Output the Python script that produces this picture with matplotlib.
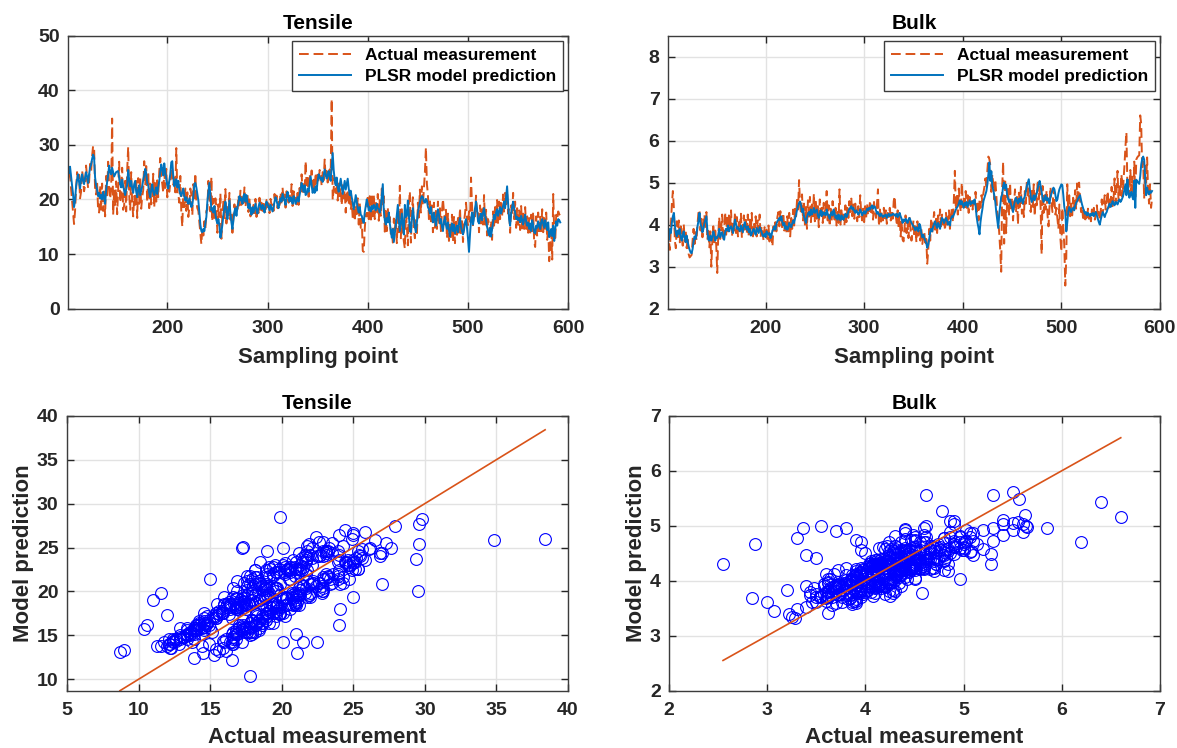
import numpy as np
import matplotlib
matplotlib.use("Agg")
import matplotlib.pyplot as plt

plt.rcParams['font.family'] = ['Liberation Sans', 'DejaVu Sans']
plt.rcParams['font.weight'] = 'bold'
plt.rcParams['axes.titleweight'] = 'bold'
plt.rcParams['axes.labelweight'] = 'bold'

# Tensile strength, sampling points 101..592
tensile_actual = [
    23.5, 25.6, 24.9, 22.0, 19.8, 17.4, 15.5, 17.9, 21.8, 25.0,
    23.1, 24.5, 20.2, 21.4, 25.3, 23.9, 21.5, 22.6, 26.2, 24.0,
    22.1, 23.2, 26.5, 25.0, 27.9, 29.8, 29.6, 21.7, 20.9, 23.2,
    18.0, 17.6, 22.6, 18.1, 22.9, 17.9, 21.7, 16.9, 24.3, 20.2,
    26.9, 22.4, 20.1, 21.8, 34.8, 17.2, 21.6, 19.0, 23.3, 17.3,
    21.8, 26.9, 19.4, 20.6, 25.8, 18.1, 18.9, 23.4, 17.8, 25.3,
    29.6, 20.8, 18.1, 25.0, 19.4, 16.9, 20.6, 18.5, 23.9, 16.6,
    23.9, 19.2, 24.1, 18.3, 20.5, 21.7, 27.0, 22.6, 26.1, 19.5,
    25.1, 18.4, 22.9, 19.1, 20.6, 24.7, 18.5, 23.2, 19.6, 23.5,
    20.4, 25.1, 27.6, 24.0, 22.9, 21.2, 25.0, 22.1, 25.6, 20.4,
    23.1, 21.4, 22.9, 25.8, 24.4, 22.7, 24.0, 21.3, 29.4, 21.0,
    21.0, 19.4, 24.3, 17.6, 15.0, 21.7, 18.6, 22.0, 17.9, 21.3,
    16.8, 18.6, 22.0, 20.9, 17.1, 22.8, 20.2, 24.8, 19.6, 18.4,
    17.9, 15.8, 13.6, 11.8, 14.9, 13.4, 16.0, 14.6, 17.9, 18.1,
    23.4, 20.1, 17.8, 24.1, 16.0, 20.1, 16.3, 20.2, 18.6, 13.9,
    19.1, 16.8, 21.1, 12.8, 17.6, 19.6, 16.2, 21.9, 15.6, 18.6,
    17.1, 21.2, 16.3, 17.5, 13.9, 17.0, 19.1, 17.2, 18.6, 17.7,
    20.7, 18.9, 21.6, 19.0, 20.4, 19.3, 22.2, 18.7, 19.9, 21.1,
    17.7, 20.0, 16.9, 18.3, 17.4, 19.0, 17.5, 20.1, 16.8, 18.2,
    17.5, 20.3, 18.1, 19.4, 17.9, 19.7, 18.2, 17.4, 19.9, 18.6,
    19.3, 17.5, 20.1, 18.9, 19.2, 17.9, 21.0, 19.5, 20.7, 18.4,
    19.6, 18.8, 21.3, 19.0, 22.2, 19.6, 20.9, 18.5, 21.5, 20.6,
    19.4, 21.1, 19.7, 22.8, 18.8, 21.5, 19.6, 20.3, 19.1, 21.2,
    19.0, 22.1, 20.9, 24.6, 21.4, 23.0, 21.1, 27.0, 22.6, 23.9,
    20.5, 24.7, 23.1, 25.3, 22.2, 23.6, 21.8, 24.9, 22.9, 24.5,
    23.1, 25.4, 24.6, 22.5, 25.0, 23.5, 27.3, 23.9, 25.2, 23.1,
    24.3, 25.5, 24.4, 38.4, 19.9, 21.9, 24.0, 21.2, 22.9, 19.8,
    22.9, 20.6, 22.1, 18.9, 22.6, 20.2, 21.7, 17.6, 20.9, 21.8,
    19.0, 21.3, 18.1, 19.6, 16.6, 19.2, 16.0, 18.9, 17.3, 20.2,
    15.4, 19.4, 14.8, 16.5, 10.6, 10.4, 14.6, 17.3, 16.9, 20.8,
    16.4, 20.6, 15.8, 21.1, 16.9, 20.9, 16.4, 19.8, 17.2, 21.0,
    16.1, 19.9, 17.0, 22.0, 19.1, 20.6, 14.1, 17.9, 14.2, 18.4,
    15.9, 16.8, 13.7, 14.5, 12.1, 16.5, 14.4, 16.6, 12.0, 17.8,
    14.0, 22.5, 12.9, 18.2, 14.4, 12.3, 11.0, 17.3, 15.2, 11.6,
    19.0, 21.5, 12.1, 17.8, 20.4, 14.6, 12.9, 16.5, 13.4, 19.4,
    16.7, 21.8, 17.6, 22.4, 18.9, 21.9, 25.0, 29.5, 22.8, 20.9,
    16.4, 19.9, 16.0, 18.9, 14.0, 19.4, 14.8, 17.9, 14.6, 19.6,
    15.4, 18.4, 14.2, 17.8, 20.1, 17.7, 14.9, 18.1, 12.9, 17.4,
    12.4, 15.6, 13.1, 17.2, 12.4, 16.8, 12.0, 16.1, 13.4, 16.6,
    13.9, 18.4, 13.6, 16.5, 12.2, 15.9, 17.4, 19.4, 16.6, 15.3,
    17.8, 15.9, 24.0, 18.9, 15.1, 17.9, 16.9, 20.7, 17.4, 17.8,
    14.0, 18.9, 15.6, 18.2, 15.4, 20.8, 15.4, 18.1, 13.4, 16.4,
    15.4, 12.9, 16.1, 12.6, 17.8, 15.2, 18.6, 15.8, 19.9, 15.4,
    19.6, 16.4, 19.8, 16.8, 20.9, 17.6, 21.2, 18.8, 21.3, 17.4,
    18.2, 13.9, 18.9, 17.0, 21.2, 16.4, 19.6, 14.8, 18.4, 14.9,
    18.0, 14.4, 18.8, 14.7, 17.4, 14.6, 18.6, 14.6, 16.9, 13.9,
    16.6, 13.4, 17.2, 14.2, 17.8, 12.2, 11.3, 16.9, 13.2, 17.6,
    13.6, 16.8, 14.2, 18.2, 14.0, 16.6, 14.3, 17.6, 12.6, 15.0,
    8.7, 11.6, 13.9, 9.0, 21.0, 13.9, 12.4, 17.2, 16.5, 17.8,
    17.3, 17.0,
]
tensile_pred = [
    25.5, 24.8, 26.0, 24.2, 22.6, 21.0, 18.6, 19.8, 22.4, 23.6,
    24.6, 23.2, 22.0, 23.8, 24.6, 23.4, 22.8, 24.0, 25.0, 24.2,
    23.0, 24.6, 25.8, 26.4, 27.4, 28.2, 27.7, 24.0, 22.6, 21.8,
    20.6, 21.2, 20.2, 20.8, 20.0, 21.4, 20.4, 19.2, 21.6, 23.2,
    24.4, 26.2, 25.0, 24.6, 25.8, 25.0, 24.2, 24.6, 25.0, 25.1,
    25.2, 24.0, 22.8, 22.2, 23.6, 22.4, 21.6, 20.8, 21.8, 22.6,
    25.4, 23.6, 22.4, 23.4, 22.0, 21.2, 22.8, 23.4, 21.4, 20.4,
    21.8, 22.6, 20.8, 21.6, 22.4, 23.6, 24.4, 25.6, 24.8, 23.0,
    22.6, 21.2, 20.4, 21.8, 22.8, 21.4, 20.8, 21.6, 22.2, 21.0,
    22.4, 23.4, 25.0, 26.4, 25.6, 24.4, 26.6, 25.0, 23.8, 22.6,
    22.0, 23.4, 24.6, 26.8, 27.0, 24.2, 22.4, 23.0, 23.7, 22.2,
    23.4, 21.8, 21.0, 20.6, 21.4, 22.0, 20.6, 19.8, 20.4, 19.6,
    19.2, 20.2, 19.4, 18.6, 19.0, 20.6, 22.8, 23.0, 22.2, 21.0,
    19.8, 17.6, 15.4, 14.2, 14.0, 14.6, 14.2, 15.6, 16.8, 19.6,
    21.4, 23.0, 20.8, 18.0, 18.4, 17.6, 18.8, 17.2, 16.2, 15.6,
    16.4, 15.2, 13.0, 14.0, 15.4, 17.2, 18.6, 19.6, 17.8, 16.4,
    18.2, 19.8, 17.4, 15.8, 14.6, 16.2, 17.8, 18.4, 17.0, 18.6,
    19.4, 20.6, 19.8, 20.2, 19.2, 20.6, 21.0, 19.6, 20.8, 19.4,
    18.4, 19.2, 18.0, 17.2, 18.6, 17.6, 18.4, 19.2, 18.0, 17.4,
    18.6, 19.4, 18.8, 18.2, 19.0, 18.4, 17.6, 18.8, 19.6, 19.2,
    18.6, 18.0, 19.0, 18.4, 17.8, 18.6, 19.6, 20.4, 19.8, 19.0,
    18.4, 19.4, 20.2, 19.6, 21.0, 20.4, 19.8, 19.0, 20.6, 21.4,
    20.2, 19.6, 20.4, 20.0, 19.2, 20.6, 20.0, 19.2, 19.8, 20.4,
    19.6, 20.8, 21.8, 23.0, 22.4, 21.4, 22.6, 20.8, 21.0, 22.0,
    21.4, 22.8, 24.2, 22.6, 21.2, 22.0, 21.2, 22.4, 21.6, 23.4,
    24.6, 24.2, 23.6, 24.0, 23.2, 24.4, 25.5, 24.6, 23.8, 24.4,
    25.2, 24.0, 23.4, 26.0, 28.5, 25.4, 23.6, 22.6, 24.0, 22.2,
    21.4, 22.6, 23.8, 22.4, 21.0, 22.2, 23.4, 21.8, 22.8, 23.8,
    22.0, 20.8, 21.6, 20.4, 19.4, 18.2, 19.4, 20.8, 19.6, 18.4,
    17.6, 18.6, 17.2, 17.0, 16.2, 15.7, 17.6, 18.8, 20.0, 19.2,
    18.0, 18.6, 17.8, 18.8, 18.2, 19.0, 18.6, 18.0, 19.2, 18.4,
    18.2, 17.6, 18.6, 20.8, 22.8, 18.0, 16.2, 15.4, 16.6, 15.8,
    17.6, 15.6, 14.2, 13.0, 14.6, 12.2, 13.8, 15.4, 17.3, 19.0,
    16.2, 14.2, 15.8, 17.4, 15.2, 13.6, 19.0, 16.8, 17.0, 19.8,
    17.2, 14.2, 14.0, 16.4, 18.4, 16.6, 15.0, 14.0, 15.8, 17.6,
    18.6, 19.4, 20.2, 20.6, 20.4, 19.6, 19.4, 20.1, 19.8, 18.6,
    18.2, 17.4, 18.6, 16.8, 15.8, 17.6, 16.4, 15.2, 17.0, 18.2,
    17.2, 15.6, 16.4, 15.0, 14.2, 16.0, 16.8, 15.4, 14.6, 15.8,
    14.4, 13.2, 14.8, 15.6, 14.2, 15.4, 13.8, 14.6, 15.2, 14.0,
    15.6, 16.6, 15.0, 14.2, 13.6, 14.4, 15.8, 16.4, 14.8, 12.8,
    10.4, 13.6, 16.2, 17.6, 15.4, 16.8, 18.4, 19.6, 18.2, 16.0,
    15.6, 16.8, 17.4, 16.2, 17.6, 18.4, 17.0, 16.2, 15.0, 14.2,
    13.4, 14.8, 13.2, 14.6, 15.8, 17.2, 16.4, 17.6, 18.2, 17.0,
    17.8, 18.6, 17.4, 18.2, 18.8, 19.6, 18.4, 20.4, 22.4, 19.2,
    16.4, 15.2, 17.4, 18.6, 19.6, 18.4, 17.6, 16.4, 16.8, 16.2,
    16.6, 15.8, 17.0, 16.2, 15.4, 16.4, 17.2, 16.0, 15.2, 15.8,
    14.6, 15.6, 14.2, 16.2, 15.4, 14.0, 13.8, 15.2, 14.8, 16.0,
    15.2, 14.6, 15.8, 16.4, 15.6, 14.8, 16.2, 15.4, 14.4, 15.8,
    13.1, 13.8, 14.6, 13.3, 15.2, 12.4, 14.6, 16.0, 15.2, 16.4,
    16.2, 15.8,
]

# Bulk property, same sampling points
bulk_actual = [
    4.25, 3.60, 3.40, 4.00, 4.50, 4.80, 4.40, 3.62, 3.44, 4.08,
    3.70, 4.10, 3.58, 3.96, 3.76, 3.50, 4.02, 3.60, 3.86, 3.44,
    3.70, 3.30, 3.22, 3.25, 3.28, 3.62, 3.90, 3.54, 3.82, 3.62,
    4.02, 4.30, 4.36, 3.86, 4.14, 3.70, 3.96, 4.24, 3.90, 4.30,
    3.64, 3.90, 3.46, 3.84, 3.00, 3.62, 3.96, 3.58, 3.86, 3.50,
    2.85, 3.74, 4.18, 3.66, 3.92, 4.24, 3.62, 3.88, 4.30, 3.76,
    4.16, 3.84, 4.28, 3.90, 4.34, 3.72, 4.06, 3.86, 4.30, 3.80,
    4.18, 3.72, 4.10, 3.96, 4.26, 3.68, 4.02, 4.22, 3.88, 4.14,
    3.80, 4.24, 3.70, 4.12, 3.84, 4.28, 3.66, 4.04, 3.92, 4.20,
    3.72, 4.10, 3.86, 4.24, 3.70, 3.96, 3.80, 3.62, 3.94, 3.76,
    3.88, 3.66, 3.98, 3.60, 3.84, 3.72, 3.48, 3.96, 3.80, 4.06,
    3.84, 4.18, 4.30, 3.96, 4.32, 4.12, 3.90, 4.28, 3.86, 4.14,
    3.78, 4.20, 3.84, 4.28, 3.72, 4.16, 3.90, 4.36, 3.98, 4.44,
    4.20, 4.62, 4.36, 5.06, 4.46, 4.24, 4.72, 4.10, 4.50, 3.96,
    4.42, 3.90, 4.58, 4.12, 4.66, 4.06, 4.48, 4.20, 4.74, 4.08,
    4.56, 4.14, 4.44, 3.94, 4.60, 4.22, 4.40, 4.04, 4.52, 4.16,
    4.40, 4.80, 4.10, 4.46, 3.96, 4.38, 4.08, 4.56, 4.24, 4.12,
    4.40, 3.98, 4.30, 4.04, 4.84, 4.00, 4.34, 4.08, 4.24, 3.98,
    4.46, 4.06, 4.40, 4.16, 4.56, 4.30, 4.62, 4.20, 4.48, 4.14,
    4.50, 4.22, 4.08, 4.44, 4.18, 4.70, 4.26, 4.10, 4.38, 4.06,
    4.44, 4.16, 4.50, 4.22, 4.30, 4.58, 4.24, 4.40, 4.12, 4.54,
    4.30, 4.16, 4.48, 4.84, 3.96, 4.36, 4.04, 4.30, 4.10, 4.40,
    4.12, 4.34, 4.02, 4.28, 4.18, 4.40, 4.10, 4.32, 4.14, 4.56,
    4.68, 4.22, 4.04, 4.34, 3.90, 4.20, 3.72, 4.06, 3.64, 3.60,
    3.94, 4.22, 3.80, 4.06, 3.68, 4.18, 3.90, 3.62, 3.84, 4.10,
    3.70, 3.96, 3.58, 4.08, 3.74, 3.86, 3.62, 3.90, 3.54, 3.72,
    3.84, 3.50, 3.66, 3.07, 3.40, 3.90, 3.62, 4.16, 3.78, 4.04,
    4.30, 3.88, 4.14, 3.80, 4.22, 3.96, 4.36, 3.92, 4.24, 4.00,
    4.18, 3.86, 4.28, 3.96, 4.12, 4.34, 3.90, 4.20, 4.40, 4.06,
    4.60, 5.28, 4.36, 4.72, 4.24, 4.86, 4.50, 4.30, 5.00, 4.42,
    4.62, 4.34, 4.80, 4.40, 4.70, 4.28, 4.66, 4.44, 4.56, 4.36,
    4.64, 4.48, 4.78, 4.30, 4.50, 4.10, 4.58, 4.40, 4.70, 4.54,
    4.76, 4.90, 5.10, 4.86, 5.30, 5.62, 5.56, 5.40, 4.78, 5.20,
    4.96, 4.60, 5.08, 4.72, 4.30, 4.14, 3.80, 3.40, 2.88, 4.90,
    5.50, 3.55, 5.10, 3.80, 4.56, 4.90, 4.24, 5.00, 4.32, 4.64,
    4.10, 4.48, 4.84, 4.30, 4.66, 4.00, 4.76, 4.42, 4.90, 4.26,
    4.60, 4.18, 4.80, 4.50, 5.02, 4.62, 4.86, 4.40, 4.30, 4.84,
    4.40, 4.96, 4.20, 4.74, 4.46, 5.06, 4.60, 4.90, 4.40, 3.30,
    4.92, 4.28, 4.70, 4.36, 4.82, 4.22, 3.96, 4.44, 4.90, 4.50,
    4.30, 4.86, 4.60, 4.24, 4.40, 4.14, 3.90, 4.48, 3.70, 3.36,
    4.40, 3.96, 3.50, 2.55, 3.20, 4.96, 4.32, 4.70, 4.20, 4.50,
    4.22, 4.64, 4.40, 4.82, 4.36, 4.98, 4.50, 5.00, 4.62, 4.30,
    4.44, 4.16, 4.34, 4.06, 4.24, 4.10, 4.38, 4.14, 4.30, 4.08,
    4.36, 4.20, 4.40, 4.12, 4.26, 4.46, 4.18, 4.30, 4.10, 4.36,
    4.60, 4.24, 4.50, 4.70, 4.36, 4.58, 4.80, 4.40, 4.66, 4.52,
    4.90, 4.44, 4.62, 5.10, 4.50, 4.80, 5.28, 4.56, 4.96, 4.70,
    5.20, 4.66, 5.02, 5.40, 5.85, 6.20, 4.90, 5.06, 4.68, 5.30,
    4.80, 5.14, 4.70, 5.50, 4.66, 5.55, 5.60, 5.63, 5.65, 6.60,
    6.40, 5.30, 5.50, 4.62, 5.40, 5.00, 5.60, 4.80, 4.50, 4.96,
    4.40, 4.62,
]
bulk_pred = [
    3.72, 3.64, 3.90, 3.80, 4.05, 4.20, 4.28, 3.98, 3.80, 3.72,
    3.86, 3.78, 3.90, 3.70, 3.62, 3.76, 3.84, 3.68, 3.58, 3.74,
    3.60, 3.48, 3.40, 3.34, 3.32, 3.42, 3.60, 3.72, 3.66, 3.80,
    3.96, 4.10, 4.28, 4.02, 3.94, 3.82, 3.90, 4.04, 4.12, 4.20,
    3.86, 3.64, 3.62, 3.74, 3.62, 3.70, 3.84, 3.76, 3.62, 3.70,
    3.68, 3.76, 3.90, 3.70, 3.78, 3.82, 3.70, 3.64, 3.82, 3.90,
    3.86, 3.98, 3.84, 3.92, 3.96, 3.90, 3.80, 3.96, 4.12, 4.02,
    3.90, 3.94, 3.88, 3.84, 3.98, 3.90, 3.82, 3.98, 4.06, 3.94,
    3.88, 3.96, 3.82, 3.90, 3.74, 3.78, 3.86, 3.90, 3.82, 3.76,
    3.92, 3.86, 3.80, 3.94, 3.88, 3.82, 3.74, 3.72, 3.78, 3.70,
    3.84, 3.80, 3.76, 3.80, 3.68, 3.74, 3.86, 3.90, 3.96, 3.88,
    4.02, 4.08, 4.12, 4.16, 4.10, 4.20, 4.06, 3.98, 4.04, 3.90,
    3.96, 3.88, 3.92, 4.04, 3.98, 3.94, 4.02, 4.10, 4.04, 4.16,
    4.24, 4.36, 4.44, 4.52, 4.55, 4.46, 4.30, 4.38, 4.20, 4.12,
    4.04, 4.18, 4.26, 4.30, 4.22, 4.36, 4.24, 4.30, 4.40, 4.28,
    4.32, 4.36, 4.22, 4.16, 4.26, 4.34, 4.20, 4.30, 4.24, 4.28,
    4.22, 4.36, 4.26, 4.20, 4.14, 4.24, 4.30, 4.22, 4.36, 4.28,
    4.16, 4.22, 4.12, 4.24, 4.18, 4.10, 4.22, 4.16, 4.12, 4.20,
    4.26, 4.18, 4.22, 4.32, 4.38, 4.40, 4.44, 4.36, 4.40, 4.32,
    4.28, 4.34, 4.30, 4.24, 4.28, 4.36, 4.30, 4.22, 4.28, 4.32,
    4.26, 4.30, 4.38, 4.34, 4.40, 4.36, 4.42, 4.46, 4.38, 4.44,
    4.42, 4.34, 4.26, 4.30, 4.24, 4.20, 4.26, 4.22, 4.18, 4.22,
    4.20, 4.24, 4.16, 4.22, 4.26, 4.20, 4.24, 4.22, 4.26, 4.24,
    4.24, 4.20, 4.26, 4.18, 4.22, 4.28, 4.20, 4.14, 4.04, 4.12,
    4.08, 4.14, 4.10, 4.04, 4.12, 4.16, 4.10, 4.04, 4.00, 3.96,
    3.92, 3.86, 3.94, 3.90, 3.84, 4.02, 3.96, 3.80, 3.70, 3.76,
    3.68, 3.62, 3.56, 3.45, 3.52, 3.66, 3.82, 3.90, 3.84, 3.96,
    4.02, 4.08, 3.98, 3.92, 4.04, 3.96, 3.90, 4.06, 4.16, 4.12,
    4.04, 4.10, 4.16, 4.10, 4.00, 4.06, 3.98, 4.14, 4.20, 4.18,
    4.24, 4.30, 4.36, 4.40, 4.44, 4.50, 4.58, 4.48, 4.56, 4.48,
    4.40, 4.52, 4.46, 4.54, 4.42, 4.50, 4.58, 4.48, 4.52, 4.56,
    4.50, 4.60, 4.46, 4.20, 4.04, 3.92, 3.77, 4.06, 4.24, 4.38,
    4.56, 4.64, 4.72, 4.80, 4.96, 5.20, 5.48, 5.04, 5.27, 4.92,
    4.82, 4.70, 4.54, 4.30, 4.10, 3.92, 4.24, 4.46, 4.66, 4.72,
    4.92, 5.00, 4.86, 4.95, 4.70, 4.62, 4.54, 4.60, 4.48, 4.40,
    4.30, 4.46, 4.58, 4.64, 4.56, 4.50, 4.62, 4.54, 4.66, 4.58,
    4.50, 4.62, 4.68, 4.80, 4.92, 5.00, 5.08, 4.86, 4.64, 4.54,
    4.60, 4.70, 4.58, 4.66, 4.74, 4.86, 4.96, 5.04, 4.92, 4.78,
    4.62, 4.54, 4.62, 4.70, 4.58, 4.64, 4.56, 4.50, 4.66, 4.74,
    4.82, 4.88, 4.84, 4.70, 4.56, 4.60, 4.74, 4.84, 4.90, 4.96,
    4.94, 4.70, 4.42, 4.30, 3.84, 4.04, 4.30, 4.42, 4.36, 4.30,
    4.38, 4.40, 4.34, 4.44, 4.52, 4.56, 4.62, 4.66, 4.70, 4.58,
    4.48, 4.40, 4.32, 4.26, 4.30, 4.22, 4.28, 4.24, 4.20, 4.26,
    4.22, 4.28, 4.20, 4.26, 4.30, 4.22, 4.14, 4.06, 4.00, 4.12,
    4.22, 4.30, 4.24, 4.18, 4.26, 4.30, 4.38, 4.44, 4.50, 4.42,
    4.48, 4.56, 4.50, 4.46, 4.54, 4.52, 4.48, 4.56, 4.60, 4.54,
    4.58, 4.64, 4.72, 4.84, 4.96, 4.70, 5.08, 4.80, 4.64, 4.72,
    4.78, 4.66, 4.60, 5.05, 4.40, 5.07, 5.03, 5.00, 4.97, 5.15,
    5.43, 5.56, 5.62, 5.55, 5.10, 4.70, 4.88, 4.78, 4.72, 4.80,
    4.76, 4.80,
]

first_point = 101
orange = '#D95319'
blue = '#0072BD'
tick_color = '#262626'

assert len(tensile_actual) == len(tensile_pred) == len(bulk_actual) == len(bulk_pred), \
    (len(tensile_actual), len(tensile_pred), len(bulk_actual), len(bulk_pred))
samples = np.arange(first_point, first_point + len(tensile_actual))


def style_axes(ax):
    ax.grid(True, color='#e2e2e2', linewidth=1.0)
    ax.set_axisbelow(True)
    for sp in ax.spines.values():
        sp.set_color('#3c3c3c')
        sp.set_linewidth(1.0)
    ax.tick_params(direction='in', length=5, width=1.0, colors=tick_color,
                   labelsize=14, top=True, right=True)
    ax.tick_params(axis='x', pad=8)
    ax.tick_params(axis='y', pad=6)
    for lbl in ax.get_xticklabels() + ax.get_yticklabels():
        lbl.set_fontweight('bold')


def series_panel(ax, actual, pred, title, ylim, yticks):
    ax.plot(samples, actual, color=orange, linewidth=1.4, dashes=(5, 2.5),
            label='Actual measurement')
    ax.plot(samples, pred, color=blue, linewidth=1.4, label='PLSR model prediction')
    ax.set_xlim(first_point, 600)
    ax.set_xticks([200, 300, 400, 500, 600])
    ax.set_ylim(*ylim)
    ax.set_yticks(yticks)
    ax.set_title(title, fontsize=15, fontweight='bold', pad=5)
    ax.set_xlabel('Sampling point', fontsize=16, fontweight='bold',
                  color=tick_color, labelpad=7)
    leg = ax.legend(loc='upper right', fontsize=12.5, frameon=True, fancybox=False,
                    framealpha=1, edgecolor='#3c3c3c', handlelength=3.0,
                    borderaxespad=0.3, borderpad=0.4, labelspacing=0.35)
    leg.get_frame().set_linewidth(1.0)
    for t in leg.get_texts():
        t.set_fontweight('bold')
    style_axes(ax)


def scatter_panel(ax, actual, pred, title, xlim, xticks, ylim, yticks):
    ax.plot(actual, pred, 'o', markerfacecolor='none', markeredgecolor='#0000FF',
            markersize=8.5, markeredgewidth=0.8)
    lo, hi = min(actual), max(actual)
    ax.plot([lo, hi], [lo, hi], color=orange, linewidth=1.2)
    ax.set_xlim(*xlim)
    ax.set_xticks(xticks)
    ax.set_ylim(*ylim)
    ax.set_yticks(yticks)
    ax.set_title(title, fontsize=15, fontweight='bold', pad=5)
    ax.set_xlabel('Actual measurement', fontsize=16, fontweight='bold',
                  color=tick_color, labelpad=6)
    ax.set_ylabel('Model prediction', fontsize=16, fontweight='bold',
                  color=tick_color, labelpad=2)
    style_axes(ax)


fig = plt.figure(figsize=(11.77, 7.48), dpi=100)

ax1 = fig.add_axes([0.0578, 0.5873, 0.4250, 0.3652])
series_panel(ax1, tensile_actual, tensile_pred, 'Tensile', (0, 50), range(0, 51, 10))

ax2 = fig.add_axes([0.5675, 0.5873, 0.4180, 0.3652])
series_panel(ax2, bulk_actual, bulk_pred, 'Bulk', (2, 8.5), range(2, 9))

ax3 = fig.add_axes([0.0569, 0.0766, 0.4257, 0.3676])
scatter_panel(ax3, tensile_actual, tensile_pred, 'Tensile',
              (5, 40), range(5, 41, 5), (min(tensile_actual), 40), range(10, 41, 5))

ax4 = fig.add_axes([0.5684, 0.0766, 0.4172, 0.3676])
scatter_panel(ax4, bulk_actual, bulk_pred, 'Bulk',
              (2, 7), range(2, 8), (2, 7), range(2, 8))

fig.savefig('out.png', dpi=100)
